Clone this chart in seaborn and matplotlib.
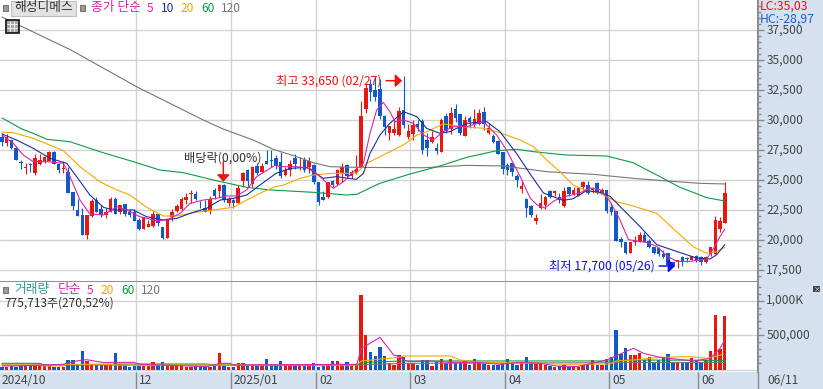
import numpy as np
import matplotlib
matplotlib.use("Agg")
import matplotlib.pyplot as plt
from matplotlib.patches import Rectangle
from matplotlib.transforms import ScaledTranslation
import seaborn as sns

opens = [28550,28050,28300,27650,26500,26000,26350,25550,26350,26550,26600,27350,26350,25900,25700,24000,22500,22050,20400,22000,
23350,22600,22100,22350,23400,22300,23000,22350,22350,21700,20950,21100,21150,22150,21050,20200,21900,22400,22600,23300,
23850,23850,22850,22700,22450,24200,24100,24600,23100,23350,23100,24950,25850,24650,26150,25700,26600,26700,
26800,26500,25400,25800,26800,26550,26700,26050,26250,24850,23550,23550,24950,24650,25600,26250,25350,25600,26100,30900,
33000,32500,32550,30350,28950,28900,28750,30850,28550,28850,29650,29950,28300,28150,27700,27350,30300,29250,30950,30500,
28700,30150,29700,29650,30700,28950,28650,28250,27300,26250,26400,25350,24250,23450,22850,21550,22700,22950,24050,23950,
23600,22850,24450,23850,23700,24450,24600,24150,24750,23950,24150,22750,22450,20100,19850,18900,19800,19850,20400,19950,
19450,19350,18850,18950,18200,18150,18600,18500,18350,18700,18550,18150,18850,18850,20950,21450]
closes = [28200,28550,27650,26650,26400,26050,26250,26850,26650,26900,27350,26350,25800,25950,23950,22850,22000,20400,22100,23250,
22350,22100,22350,23400,22150,22950,22200,22100,21600,20900,21850,21350,22200,21450,20150,21700,22300,22800,23450,23550,
23950,23400,22800,22350,23450,23650,24600,23300,23450,23100,24350,25550,24950,26100,25550,26150,26350,26550,
26150,25300,25850,26350,26350,26600,25850,26600,24850,23200,23350,24800,24600,25850,26100,25350,25700,25950,30350,32650,
32350,31950,30300,29450,29500,29250,30750,29600,29100,29600,29450,27500,27700,28550,27450,30000,29050,30600,30150,28900,
30000,29800,30050,30600,29700,29300,28150,27200,25900,25800,25650,25000,24500,22700,22100,21850,23050,23600,23600,24100,
23300,24100,23850,24200,24300,24850,23900,24350,23900,24200,22400,22300,19950,19850,18900,19850,19900,20400,19850,19400,
18950,18800,18550,17950,17900,18300,18150,18450,18700,18300,18200,18550,19400,21700,21550,23950]
highs = [28950,28850,28350,27800,26700,26400,26450,27200,27200,27000,27400,27450,26450,26600,26100,24000,23400,22650,22100,23450,
23550,22900,22650,23550,23600,22950,23000,22550,22550,21800,21900,21650,22450,22200,21100,21800,22550,23000,23550,23900,
24150,24100,23250,23350,23650,24350,24700,24700,23600,23400,24600,25700,25900,26150,26450,26450,27500,27500,
27100,27300,26050,26650,27150,26950,26950,26900,26350,24850,24050,24850,25000,25950,26400,26350,25800,27100,31600,33000,
33450,33550,33450,30400,29500,30000,31100,33650,29700,30000,30000,30050,28950,29050,28050,30200,30550,31050,31300,30500,
30300,30350,30950,30900,31050,29650,28800,28350,27350,26450,26450,25500,25000,23500,22950,22200,23800,23700,24150,24200,
23900,24400,24450,24400,24350,24900,24950,24450,24800,24350,24200,23050,22450,20250,19850,19850,20350,20650,20650,20100,
19450,19450,19200,18950,18200,18350,18650,18600,18700,18750,18700,18650,19450,22000,21900,24850]
lows = [27850,27850,27600,26650,25900,25500,25650,25450,26250,26450,26550,26350,25600,25600,23950,22500,22000,20400,20100,21950,
22300,21950,21800,22300,22150,22150,22000,21950,21600,20850,20900,21050,21050,21150,20100,20200,21550,22350,22500,23000,
23050,23350,22700,22300,22150,23450,23600,23200,22850,22700,23050,24450,24450,24450,25400,25650,26350,26100,
25950,25150,25300,25350,25950,25800,25700,25600,24650,22900,23300,23500,24400,24550,24850,25200,25200,25500,26050,30550,
31600,31600,30100,28750,28350,28750,28650,29300,28400,28350,29100,27200,27000,28050,27150,27300,28950,28850,29800,28750,
28650,29300,29300,29550,29150,28850,28050,27150,25500,25400,25300,24450,23950,21900,21900,21300,22550,22550,23500,23700,
23050,22750,23700,23750,23650,24150,23850,23900,23850,23800,22250,22050,19900,19400,18850,18900,19600,19800,19800,19350,
18850,18700,18500,17800,17850,17700,17850,18150,18300,18150,17950,18100,18650,18800,20700,21450]
volumes_k = [48,43,58,48,62,58,62,62,67,62,62,48,48,48,144,144,82,274,130,82,72,72,72,67,245,86,72,43,62,58,58,58,115,67,115,53,53,62,58,38,
48,58,43,38,48,58,245,58,43,43,96,96,58,58,58,58,158,86,86,134,86,77,77,67,58,82,101,48,62,67,130,130,72,115,58,72,
1080,504,264,202,331,202,96,72,216,
182,96,96,72,144,144,53,120,158,96,154,106,120,134,72,158,106,86,72,72,72,96,158,106,72,106,182,120,96,86,72,62,43,62,72,48,48,48,72,72,144,67,72,154,182,
576,230,312,216,216,240,144,182,106,144,182,226,106,120,96,120,168,144,120,144,278,792,298,775]

ma5_idx = [0,2.4,4.5,6.6,9.5,13,14.4,16.5,18.6,21.5,24.3,26.4,29.2,32.7,34.9,37.7,39.8,42.6,45.4,47.6,49.7,51.8,53.9,57.9,
58.8,62.4,65.2,67.3,70.1,72.3,74.4,76.5,77.9,79.3,80.7,82.1,83.2,85,87.1,89.2,91.3,93.4,95.5,98.4,101.9,104.7,106.8,109.7,111.8,113.2,114.9,
117,119.5,122.3,124.5,126.6,128.7,130.8,132.6,136.4,138.6,140.7,142.8,145.6,149.2,150.9,152,153]
ma5_val = [28750,28050,27080,26530,26530,26390,25280,23330,22170,22080,22780,22500,21940,21610,21670,22220,23050,23330,23470,23670,23670,24170,25280,26250,
26110,26110,25970,25280,24300,24860,25700,26390,28890,30830,31470,30690,29860,30000,29720,28750,28330,29030,29440,29440,29860,28750,27500,25280,23500,22940,22670,
23300,23640,23920,24330,24190,23220,21690,20030,19800,19470,18690,18220,18220,18420,19470,20300,20910]
ma10_idx = [0,3.1,6.6,10.2,13.7,15.8,18.6,21.5,23.6,27.8,30.6,34.2,37,39.8,43.3,46.2,49,51.8,54.6,58,61,64.5,65.9,68,70.8,75,76.5,77.9,80,82.1,85,87.8,89.9,92.7,94.8,98.4,102.6,105.4,108.9,111.8,
114.6,118.8,120.9,123.7,126.6,128.7,131.5,135,138.6,142.8,147,149.9,151.3,153]
ma10_val = [28830,28330,27640,26800,26390,25280,23750,22720,22500,22500,21940,21670,21800,22220,22640,23330,23470,23750,24580,25550,25970,26050,25700,25140,25280,25050,25550,27220,28750,29720,30690,30280,29300,28890,29030,29720,29860,29030,27220,25500,
23920,23300,23440,24110,23970,23640,22530,21140,19610,19050,18500,18420,18780,19610]
ma20_idx = [0,2.4,6.6,13,16.5,20.7,24.3,27.1,30.6,34.1,37,40.5,44.7,49,51.8,55.3,57.9,59.6,63.1,65.9,70,75,77.2,80.7,85,87.8,89.9,93.4,97.7,101.9,105.4,109.7,112.5,115.3,118.1,120.9,123,126.6,130.1,133.6,138.6,142.8,146.3,149.2,151.3,153]
ma20_val = [29000,28940,28475,27440,26110,24860,24170,23750,22725,22000,22000,22275,22500,22725,23330,24025,24440,24580,25140,25415,25560,25560,26390,27080,27920,28750,29025,29670,29440,29310,28940,28330,27775,26670,25690,24580,24225,23890,23190,22830,22225,20690,19440,18890,19025,19390]
ma60_idx = [0,4.2,6.6,9.5,14.4,20.7,27.8,33.4,38.4,45.4,51.8,56.7,65.8,73,75.1,80,86.4,92.7,98.4,104.7,109,112.5,119.5,128,133.6,139.3,143.5,149.2,153]
ma60_val = [30170,29250,28890,28390,28190,27360,26525,25830,25610,24940,24390,24170,23975,23750,23810,24725,25500,26170,26890,27440,27560,27360,27080,27000,26440,25275,24390,23525,23250]
ma120_idx = [0,14.6,28.6,42.6,46.8,53.2,57.4,62.4,65.9,69.4,75.8,89.2,98.4,106,113.9,115.3,125.2,133.6,140.7,147.8,153]
ma120_val = [38580,35830,32750,30000,29250,28330,27560,26940,26440,26110,26050,26020,26220,26170,25770,25690,25470,25140,24920,24720,24670]

vma5_idx = [0,3.1,13,15.8,17.9,21.5,23.6,27.8,29.2,43.3,46.2,48.3,49,75.1,76.1,80,82.9,84.3,85,86.4,90.6,94.9,100.5,105.4,109.7,113.9,117.4,121.7,128,130.8,133.7,135.8,139.3,146.4,149.9,152,153]
vma5_val = [58,58,82,130,149,106,110,110,82,48,96,96,72,82,312,470,216,192,144,120,130,110,110,82,110,96,58,48,144,230,312,240,182,130,168,312,432]
vma20_idx = [0,8,9,13,13.3,23,24,75,76.1,83.9,85,94.9,97,100.5,113.9,119.5,128.7,130.1,133.7,139.3,145.7,149.2,152.7]
vma20_val = [72,72,58,58,82,82,72,72,130,182,202,202,144,110,96,82,86,130,144,182,192,168,226]
vma60_idx = [0,8,9,23,24,43,46,75,77,85,107,130,133,153]
vma60_val = [96,96,72,82,86,86,72,72,110,130,130,130,144,139]
vma120_idx = [0,75,85,153]
vma120_val = [72,72,96,110]

month_pos = [28.37,48.48,66.47,86.37,106.48,128.49,147.33]
month_labels = ["12","2025/01","02","03","04","05","06"]
price_ticks = [17500,20000,22500,25000,27500,30000,32500,35000,37500]

assert len(opens)==len(closes)==len(highs)==len(lows)==len(volumes_k)==154, (len(opens),len(closes),len(highs),len(lows),len(volumes_k))

UP, DOWN = "#E8170F", "#1259C8"
C5, C10, C20, C60, C120 = "#D926AE", "#1A2EA0", "#F2A900", "#0F9A48", "#777777"
GRID, BAND, TXT = "#D2D2D2", "#D6E1F0", "#444444"

sns.set_theme(style="white")
plt.rcParams['font.family'] = ['Noto Sans CJK KR', 'DejaVu Sans']
W, H = 823, 389
fig = plt.figure(figsize=(W/100, H/100), dpi=100, facecolor="white")

def box(l, t, r, b):
    return [l/W, 1-b/H, (r-l)/W, (b-t)/H]
def ptext(x, y, s, color=TXT, size=8.6, **kw):
    fig.text(x/W, 1-y/H, s, color=color, fontsize=size, ha="left", va="center", zorder=20, **kw)
def prect(x, y, w, h, fc, ec="none", lw=0.8, zorder=1):
    fig.add_artist(Rectangle((x/W, 1-(y+h)/H), w/W, h/H, transform=fig.transFigure, facecolor=fc, edgecolor=ec, linewidth=lw, zorder=zorder))

prect(758, 0, 65, 389, BAND, zorder=0)
prect(0, 372, 758, 17, BAND, zorder=0)

ax = fig.add_axes(box(0, 0, 758, 281))
av = fig.add_axes(box(0, 282, 758, 372))
xlim = (-0.4234, 160.03)
idx = np.arange(len(opens))
opens_a, closes_a, highs_a, lows_a = map(np.array, (opens, closes, highs, lows))
is_up = closes_a >= opens_a
colors = np.where(is_up, UP, DOWN)

for a in (ax, av):
    a.set_facecolor("white")
    for s in ("top", "left", "bottom"):
        a.spines[s].set_visible(False)
    a.spines["right"].set_color("#8A8A8A")
    a.spines["right"].set_linewidth(1.4)
    for m in month_pos:
        a.axvline(m, color=GRID, lw=1, zorder=0.5)

for p in price_ticks:
    ax.axhline(p, color=GRID, lw=1, zorder=0.5)

ax.vlines(idx, lows_a, highs_a, colors=colors, lw=0.8, zorder=2)
bot = np.minimum(opens_a, closes_a)
hgt = np.maximum(np.abs(closes_a - opens_a), 60)
ax.bar(idx, hgt, bottom=bot, width=0.74, color=colors, linewidth=0, zorder=3)

for xs, ys, c in ((ma120_idx, ma120_val, C120), (ma60_idx, ma60_val, C60), (ma20_idx, ma20_val, C20),
                  (ma10_idx, ma10_val, C10), (ma5_idx, ma5_val, C5)):
    sns.lineplot(x=xs, y=ys, color=c, lw=0.8, ax=ax, estimator=None, sort=False, legend=False, zorder=4)

ax.set_xlim(*xlim)
ax.set_ylim(16583, 40000)
ax.set_xlabel(""); ax.set_ylabel("")
ax.set_xticks([])
ax.yaxis.tick_right()
ax.set_yticks(price_ticks)
ax.set_yticklabels([f"{p:,}" for p in price_ticks])
ax.set_yticks(np.arange(17000, 40000, 500), minor=True)
ax.tick_params(axis="y", which="major", length=4, width=1, color="#8A8A8A", labelcolor=TXT, labelsize=8.6, pad=2, right=True)
ax.tick_params(axis="y", which="minor", length=2, width=1, color="#8A8A8A", right=True)

# annotations
arrow_kw = dict(arrowstyle="-|>,head_length=0.45,head_width=0.42", mutation_scale=9, lw=1.1, shrinkA=0, shrinkB=0)
ax.annotate("", xy=(84.7, 33275), xytext=(-16, 0), textcoords="offset pixels", arrowprops=dict(color="#F01010", **arrow_kw), zorder=6)
ax.text(58, 33275, "최고 33,650 (02/27)", color="#F01010", fontsize=8.8, va="center", ha="left", zorder=6)
ax.annotate("", xy=(142.5, 17833), xytext=(-16, 0), textcoords="offset pixels", arrowprops=dict(color="#1010E0", **arrow_kw), zorder=6)
ax.text(115.8, 17833, "최저 17,700 (05/26)", color="#1010E0", fontsize=8.8, va="center", ha="left", zorder=6)
ax.annotate("", xy=(46.85, 24860), xytext=(0, 20), textcoords="offset pixels", arrowprops=dict(color="#F01010", **arrow_kw), zorder=6)
ax.text(38.5, 26800, "배당락(0,00%)", color="#333333", fontsize=8.8, va="center", ha="left", zorder=6)

# volume panel
for v in (500, 1000, 0):
    av.axhline(v, color=GRID, lw=1, zorder=0.5)
sns.barplot(x=idx, y=volumes_k, hue=list(colors), palette={UP: UP, DOWN: DOWN}, native_scale=True, dodge=False,
            legend=False, width=0.72, saturation=1, linewidth=0, ax=av, zorder=3)
for xs, ys, c in ((vma120_idx, vma120_val, C120), (vma60_idx, vma60_val, C60), (vma20_idx, vma20_val, C20), (vma5_idx, vma5_val, C5)):
    sns.lineplot(x=xs, y=ys, color=c, lw=0.8, ax=av, estimator=None, sort=False, legend=False, zorder=4)
av.set_xlim(*xlim)
av.set_ylim(-29, 1268)
av.set_xlabel(""); av.set_ylabel("")
av.yaxis.tick_right()
av.set_yticks([500, 1000])
av.set_yticklabels(["500,000", "1,000K"])
av.set_yticks(np.arange(100, 1250, 100), minor=True)
av.tick_params(axis="y", which="major", length=4, width=1, color="#8A8A8A", labelcolor=TXT, labelsize=8.6, pad=2, right=True)
av.tick_params(axis="y", which="minor", length=2, width=1, color="#8A8A8A", right=True)
av.set_xticks(month_pos)
av.set_xticklabels([])
av.tick_params(axis="x", which="major", length=12, width=1, color="#8A8A8A", bottom=True)
trans = av.get_xaxis_transform()
av.annotate("2024/10", xy=(-0.2, 0), xycoords=trans, xytext=(0, -9), textcoords="offset pixels", color=TXT, fontsize=8.6, va="center", ha="left", annotation_clip=False)
for m, lab in zip(month_pos, month_labels):
    av.annotate(lab, xy=(m, 0), xycoords=trans, xytext=(3, -9), textcoords="offset pixels", color=TXT, fontsize=8.6, va="center", ha="left", annotation_clip=False)

# nudge the right-axis labels up to sit where the reference draws them
nudge = ScaledTranslation(0, 1.5/100, fig.dpi_scale_trans)
for a in (ax, av):
    for t in a.get_yticklabels():
        t.set_transform(t.get_transform() + nudge)

# panel separator and right-band text
prect(0, 280.5, 758, 1.5, "#8F8F8F", zorder=5)
fig.add_artist(plt.Line2D([758/W, 758/W], [0, 17/H], color="#8A8A8A", lw=1, transform=fig.transFigure, zorder=5))
ptext(767, 380, "06/11")
ptext(760, 6, "LC:35,03", color="#F01010", size=8.8)
ptext(760, 19, "HC:-28,97", color="#1560D8", size=8.8)
prect(813, 286, 7, 6, "#444444", zorder=6)
ptext(814, 289, "×", color="white", size=5)

# header
prect(3, 5, 5, 6, "#9A9A9A", ec="#777777", zorder=6)
prect(10.5, 1, 65, 14.5, "#E2E2E2", ec="#BFBFBF", zorder=6)
ptext(14, 8, "해성디메스", color="#333333", size=9.2)
prect(79.5, 5, 5, 6, "#9A9A9A", ec="#777777", zorder=6)
ptext(91, 8, "종가 단순", color=C5, size=9.2)
ptext(147, 8, "5", color=C5)
ptext(161, 8, "10", color=C10)
ptext(181, 8, "20", color=C20)
ptext(201, 8, "60", color=C60)
ptext(221, 8, "120", color=C120)

# table icon
prect(5.5, 19.5, 13, 13, "#A8A8A8", ec="#111111", lw=1.2, zorder=7)
for gx in (9.8, 14.2):
    fig.add_artist(plt.Line2D([gx/W, gx/W], [1-21/H, 1-31/H], color="#EEEEEE", lw=0.7, zorder=8))
for gy in (23.5, 27.5):
    fig.add_artist(plt.Line2D([7/W, 17/W], [1-gy/H, 1-gy/H], color="#EEEEEE", lw=0.7, zorder=8))

# volume header
prect(3, 287, 5, 6, "#9A9A9A", ec="#777777", zorder=6)
ptext(14, 290, "거래량", color="#2E9A9E", size=9.2)
ptext(58, 290, "단순", color=C5, size=9.2)
ptext(87, 290, "5", color=C5)
ptext(101, 290, "20", color=C20)
ptext(121, 290, "60", color=C60)
ptext(141, 290, "120", color=C120)
ptext(4, 303, "775,713주(270,52%)", color="#333333")

fig.savefig("out.png", dpi=100, facecolor="white")
